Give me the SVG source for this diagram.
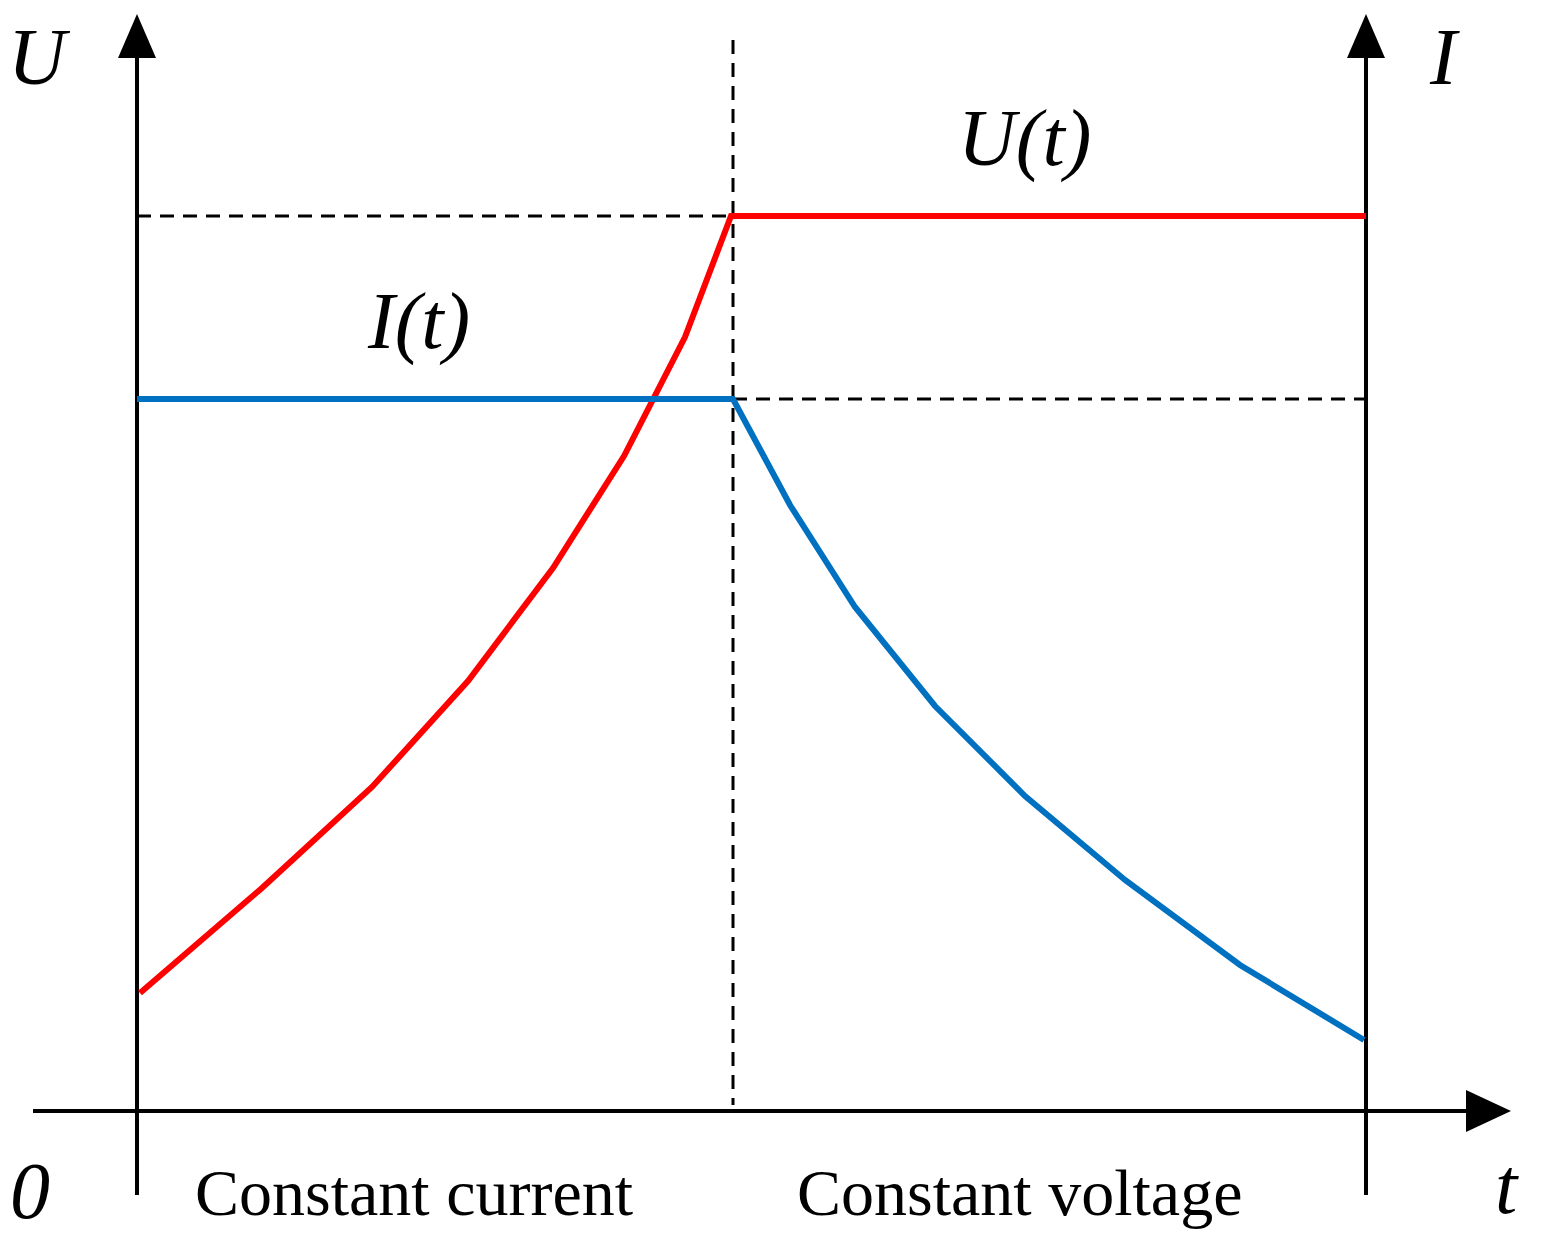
<svg xmlns="http://www.w3.org/2000/svg" width="1541" height="1237" viewBox="0 0 1541 1237">
<style>
.ax{stroke:#000;stroke-width:4;fill:none}
.da{stroke:#000;stroke-width:3;fill:none;stroke-dasharray:14,9}
.it{font-family:"Liberation Serif",serif;font-style:italic;font-size:80px}
.lb{font-family:"Liberation Serif",serif;font-size:66px}
</style>
<rect width="1541" height="1237" fill="#fff"/>
<g id="axes">
<line class="ax" x1="137" y1="1195" x2="137" y2="50"/>
<polygon points="137,14 118,58 156,58"/>
<line class="ax" x1="1366" y1="1195" x2="1366" y2="50"/>
<polygon points="1366,14 1347,58 1385,58"/>
<line class="ax" x1="33" y1="1111" x2="1475" y2="1111"/>
<polygon points="1511,1111 1466,1090 1466,1132"/>
</g>
<g id="guides">
<line class="da" x1="733" y1="40" x2="733" y2="1105"/>
<line class="da" x1="137" y1="216" x2="733" y2="216"/>
<line class="da" x1="733" y1="399" x2="1366" y2="399"/>
</g>
<g id="curves">
<polyline fill="none" stroke="#ff0000" stroke-width="6" points="140,993 262,888 372,787 468,681 553,568 624,456 685,337 731,216 1366,216"/>
<polyline fill="none" stroke="#0070c0" stroke-width="6" points="137,399 733,399 790,505 855,607 935,706 1025,796 1125,880 1240,965 1364,1040"/>
</g>
<g id="labels">
<text class="it" x="8" y="84">U</text>
<text class="it" x="1430" y="84">I</text>
<text class="it" x="958" y="165">U(t)</text>
<text class="it" x="368" y="348">I(t)</text>
<text class="it" x="10" y="1218">0</text>
<text class="it" x="1495" y="1213">t</text>
<text class="lb" x="195" y="1215">Constant current</text>
<text class="lb" x="797" y="1215">Constant voltage</text>
</g>
</svg>
